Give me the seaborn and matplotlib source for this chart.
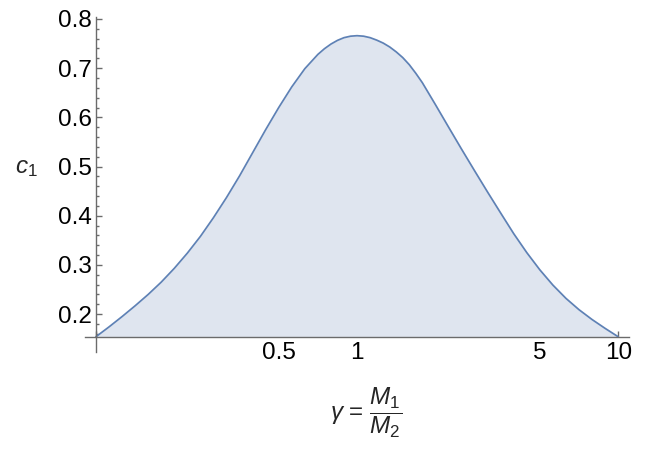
import numpy as np
import seaborn as sns
import pandas as pd
import matplotlib.pyplot as plt
from matplotlib.ticker import FixedLocator, NullFormatter

# values (log-spaced gamma)
gamma = [0.1, 0.1122, 0.1259, 0.1413, 0.1585, 0.1778, 0.1995, 0.2239, 0.2512,
         0.2818, 0.3162, 0.3548, 0.3981, 0.4467, 0.5012, 0.5623, 0.6310, 0.7079,
         0.7499, 0.7943, 0.8414, 0.8913, 0.9441, 1.0,
         1.0593, 1.122, 1.189, 1.259, 1.334, 1.413, 1.496, 1.585, 1.679, 1.778,
         1.995, 2.239, 2.512, 2.818, 3.162, 3.548, 3.981, 4.467, 5.012, 5.623,
         6.310, 7.079, 7.943, 8.913, 10.0]
c1 = [0.154, 0.174, 0.195, 0.217, 0.240, 0.265, 0.293, 0.324, 0.358,
      0.396, 0.437, 0.481, 0.528, 0.575, 0.620, 0.662, 0.699, 0.728,
      0.7395, 0.749, 0.7565, 0.762, 0.765, 0.766,
      0.765, 0.762, 0.757, 0.751, 0.743, 0.733, 0.7215, 0.707, 0.6895, 0.6705,
      0.626, 0.5805, 0.5355, 0.4915, 0.448, 0.4055, 0.3635, 0.325, 0.290, 0.259,
      0.232, 0.209, 0.189, 0.171, 0.154]

x_major = [0.1, 0.5, 1, 5, 10]
x_major_labels = ['', '0.5', '1', '5', '10']
x_minor = [0.2, 0.3, 0.4, 0.6, 0.7, 0.8, 0.9, 2, 3, 4, 6, 7, 8, 9]
y_major = [0.2, 0.3, 0.4, 0.5, 0.6, 0.7, 0.8]
y_minor = [0.16, 0.18, 0.22, 0.24, 0.26, 0.28, 0.32, 0.34, 0.36, 0.38,
           0.42, 0.44, 0.46, 0.48, 0.52, 0.54, 0.56, 0.58, 0.62, 0.64,
           0.66, 0.68, 0.72, 0.74, 0.76, 0.78]

origin_y = 0.154
line_col = '#5e81b5'
fill_col = '#dfe5ef'
axis_col = '#6b6b6b'

sns.set_theme(style='white')
plt.rcParams['font.family'] = ['Liberation Sans', 'DejaVu Sans']
plt.rcParams['mathtext.fontset'] = 'custom'
plt.rcParams['mathtext.rm'] = 'Liberation Sans'
plt.rcParams['mathtext.it'] = 'Liberation Sans:italic'

df = pd.DataFrame({'gamma': gamma, 'c1': c1})

fig = plt.figure(figsize=(6.5, 4.72), dpi=100)
ax = fig.add_axes([85/650, 1 - 352/472, (629 - 85)/650, (352 - 17)/472])

ax.fill_between(df.gamma, df.c1, origin_y, color=fill_col, lw=0, zorder=1)
sns.lineplot(data=df, x='gamma', y='c1', ax=ax, color=line_col, lw=1.25, zorder=2)

ax.set_xscale('log')
ax.set_xlim(0.0908, 11.0)
ax.set_ylim(0.123, 0.804)

for s in ['top', 'right']:
    ax.spines[s].set_visible(False)
ax.spines['left'].set_position(('data', 0.1))
ax.spines['bottom'].set_position(('data', origin_y))
for s in ['left', 'bottom']:
    ax.spines[s].set_color(axis_col)
    ax.spines[s].set_linewidth(1.0)
    ax.spines[s].set_zorder(3)

ax.xaxis.set_major_locator(FixedLocator(x_major))
ax.set_xticklabels(x_major_labels)
ax.xaxis.set_minor_locator(FixedLocator(x_minor))
ax.xaxis.set_minor_formatter(NullFormatter())
ax.yaxis.set_major_locator(FixedLocator(y_major))
ax.set_yticklabels([f'{v:.1f}' for v in y_major])
ax.yaxis.set_minor_locator(FixedLocator(y_minor))

ax.tick_params(which='both', direction='in', color=axis_col, width=1.0,
               labelsize=17.5, labelcolor='black', bottom=True, left=True)
ax.tick_params(which='major', length=4.5)
ax.tick_params(which='minor', length=2.5)
ax.tick_params(axis='x', which='major', pad=4)
ax.tick_params(axis='y', which='major', pad=3)
ax.set_xlabel('')
ax.set_ylabel('')

fig.text(26/650, 1 - 168/472, r'$c_1$', fontsize=17.5, ha='center', va='center')
fig.text(366/650, 1 - 413/472, r'$\gamma$ = $\dfrac{M_1}{M_2}$', fontsize=17.5,
         ha='center', va='center')

fig.savefig('out.png', dpi=100)
